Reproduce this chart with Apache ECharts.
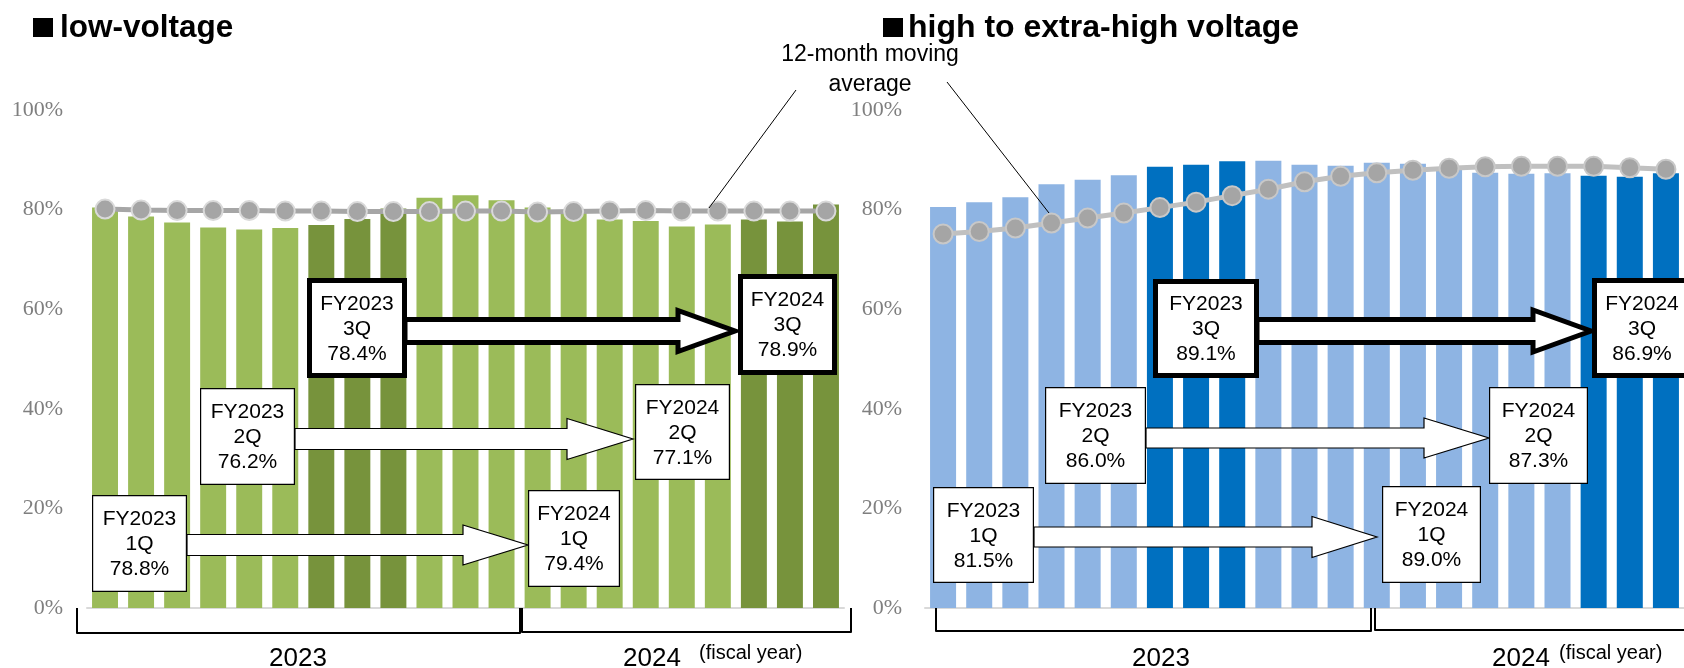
<!DOCTYPE html>
<html><head><meta charset="utf-8">
<script src="https://cdn.jsdelivr.net/npm/echarts@6/dist/echarts.min.js"></script>
<style>html,body{margin:0;padding:0;background:#fff;}#c{width:1684px;height:668px;}</style>
</head><body><div id="c"></div>
<script>
// ---- data ----
const months = ['2023-04','2023-05','2023-06','2023-07','2023-08','2023-09','2023-10','2023-11','2023-12','2024-01','2024-02','2024-03',
                '2024-04','2024-05','2024-06','2024-07','2024-08','2024-09','2024-10','2024-11','2024-12'];
const highlightMonths = ['2023-10','2023-11','2023-12','2024-10','2024-11','2024-12']; // 3Q months
const yTicks = [0, 20, 40, 60, 80, 100];
const lowBars  = [80.4, 78.6, 77.4, 76.4, 76.0, 76.3, 76.9, 78.1, 80.2, 82.4, 82.9, 81.9, 80.4, 79.9, 78.0, 77.7, 76.6, 77.0, 78.0, 77.6, 81.0];
const lowAvg   = [80.1, 79.9, 79.8, 79.8, 79.8, 79.7, 79.7, 79.6, 79.6, 79.6, 79.7, 79.7, 79.5, 79.6, 79.7, 79.8, 79.7, 79.7, 79.7, 79.7, 79.7];
const highBars = [80.5, 81.5, 82.5, 85.1, 86.0, 86.9, 88.6, 89.0, 89.7, 89.8, 89.0, 88.8, 89.4, 89.2, 88.4, 87.4, 87.2, 87.3, 86.8, 86.6, 87.3];
const highAvg  = [75.1, 75.6, 76.3, 77.3, 78.3, 79.3, 80.4, 81.5, 82.8, 84.1, 85.6, 86.7, 87.4, 87.9, 88.3, 88.6, 88.7, 88.7, 88.7, 88.4, 88.1];
const quarterNames = ['1Q', '2Q', '3Q'];
const lowQ2023  = [78.8, 76.2, 78.4];
const lowQ2024  = [79.4, 77.1, 78.9];
const highQ2023 = [81.5, 86.0, 89.1];
const highQ2024 = [89.0, 87.3, 86.9];
const fiscalYears = ['2023', '2024'];
const titles = ['low-voltage', 'high to extra-high voltage'];
const avgLabel = '12-month moving\naverage';
const fyNote = '(fiscal year)';

// ---- chart ----
const chart = echarts.init(document.getElementById('c'), null, {renderer: 'canvas'});
const SANS = '"Liberation Sans", Arial, sans-serif';
const SERIF = '"Liberation Serif", "Times New Roman", serif';

function yAxis(idx, margin) {
  return {
    type: 'value', gridIndex: idx, min: yTicks[0], max: yTicks[yTicks.length - 1], interval: yTicks[1] - yTicks[0],
    axisLine: {show: false}, axisTick: {show: false}, splitLine: {show: false},
    axisLabel: {formatter: '{value}%', color: '#7f7f7f', fontFamily: SERIF, fontSize: 22, margin: margin}
  };
}
function xAxis(idx) {
  return {
    type: 'category', gridIndex: idx, data: months,
    axisLabel: {show: false}, axisTick: {show: false},
    axisLine: {lineStyle: {color: '#d9d9d9', width: 2}}
  };
}
function barSeries(idx, data, light, dark) {
  return {
    type: 'bar', xAxisIndex: idx, yAxisIndex: idx, data: data, barCategoryGap: '28%', z: 2,
    itemStyle: {color: p => highlightMonths.includes(months[p.dataIndex]) ? dark : light},
    animation: false
  };
}
function lineSeries(idx, data, lineColor, borderColor) {
  return {
    type: 'line', xAxisIndex: idx, yAxisIndex: idx, data: data, z: 3,
    symbol: 'circle', symbolSize: 19, showSymbol: true,
    lineStyle: {color: lineColor, width: 5},
    itemStyle: {color: '#a5a5a5', borderColor: borderColor, borderWidth: 2},
    animation: false
  };
}

// ---- annotation helpers ----
function box(x, y, w, h, lines, thick) {
  const lw = thick ? 5 : 1.2;
  return [
    {type: 'rect', z: 101, shape: {x: x + lw / 2, y: y + lw / 2, width: w - lw, height: h - lw},
     style: {fill: '#fff', stroke: '#000', lineWidth: lw}},
    {type: 'text', z: 102, style: {text: lines, x: x + w / 2, y: y + h / 2 + 1, align: 'center', verticalAlign: 'middle',
      font: '21px ' + SANS, lineHeight: 24.8, fill: '#000'}}
  ];
}
function arrow(x0, xb, xt, cy, h1, h2, thick) {
  return {
    type: 'polygon', z: 100,
    shape: {points: [[x0, cy - h1], [xb, cy - h1], [xb, cy - h2], [xt, cy], [xb, cy + h2], [xb, cy + h1], [x0, cy + h1]]},
    style: {fill: '#fff', stroke: '#000', lineWidth: thick ? 5 : 1.2, lineJoin: 'miter'}
  };
}
function txt(text, x, y, font, align) {
  return {type: 'text', z: 100, style: {text: text, x: x, y: y, align: align || 'center', verticalAlign: 'middle', font: font, fill: '#000', lineHeight: 30}};
}
function bracket(pts) {
  return {type: 'polyline', z: 50, shape: {points: pts}, style: {stroke: '#000', lineWidth: 2, fill: null, lineJoin: 'round'}};
}
const qLabel = (fy, i, v) => 'FY' + fy + '\n' + quarterNames[i] + '\n' + v.toFixed(1) + '%';

const graphics = [
  // titles
  {type: 'rect', z: 100, shape: {x: 33, y: 18, width: 20, height: 19}, style: {fill: '#000'}},
  txt(titles[0], 60, 28, 'bold 31.5px ' + SANS, 'left'),
  {type: 'rect', z: 100, shape: {x: 883, y: 18, width: 20, height: 19}, style: {fill: '#000'}},
  txt(titles[1], 908, 28, 'bold 32px ' + SANS, 'left'),
  // moving average annotation
  txt(avgLabel, 870, 70, '23px ' + SANS, 'center'),
  {type: 'line', z: 100, shape: {x1: 796, y1: 90, x2: 709, y2: 208}, style: {stroke: '#000', lineWidth: 1}},
  {type: 'line', z: 100, shape: {x1: 947, y1: 82, x2: 1049, y2: 213}, style: {stroke: '#000', lineWidth: 1}},
  // left brackets & year labels
  bracket([[77, 608], [77, 633], [520, 633], [520, 608]]),
  bracket([[522, 608], [522, 632], [851, 632], [851, 608]]),
  txt(fiscalYears[0], 298, 659, '26px ' + SANS),
  txt(fiscalYears[1], 652, 659, '26px ' + SANS),
  txt(fyNote, 699, 653, '20px ' + SANS, 'left'),
  // right brackets & year labels
  bracket([[936, 608], [936, 631], [1371, 631], [1371, 608]]),
  bracket([[1375, 608], [1375, 630], [1720, 630]]),
  txt(fiscalYears[0], 1161, 659, '26px ' + SANS),
  txt(fiscalYears[1], 1521, 659, '26px ' + SANS),
  txt(fyNote, 1559, 653, '20px ' + SANS, 'left'),
  // left annotations
  arrow(187, 463, 528, 545, 10.5, 20, false),
  ...box(92, 495, 95, 97, qLabel(2023, 0, lowQ2023[0]), false),
  ...box(528, 490, 92, 97, qLabel(2024, 0, lowQ2024[0]), false),
  arrow(295, 567, 633, 439, 10.5, 20.5, false),
  ...box(200, 388, 95, 97, qLabel(2023, 1, lowQ2023[1]), false),
  ...box(635, 384, 95, 96, qLabel(2024, 1, lowQ2024[1]), false),
  arrow(405, 678, 735, 331, 11.5, 20.5, true),
  ...box(307, 278, 100, 100, qLabel(2023, 2, lowQ2023[2]), true),
  ...box(738, 274, 99, 101, qLabel(2024, 2, lowQ2024[2]), true),
  // right annotations
  arrow(1034, 1312, 1377, 537, 10, 20.5, false),
  ...box(933, 487, 101, 96, qLabel(2023, 0, highQ2023[0]), false),
  ...box(1382, 486, 99, 97, qLabel(2024, 0, highQ2024[0]), false),
  arrow(1146, 1424, 1489, 438, 10, 20, false),
  ...box(1045, 387, 101, 97, qLabel(2023, 1, highQ2023[1]), false),
  ...box(1489, 387, 99, 97, qLabel(2024, 1, highQ2024[1]), false),
  arrow(1257, 1533, 1591, 331, 11.5, 21, true),
  ...box(1153, 279, 106, 99, qLabel(2023, 2, highQ2023[2]), true),
  ...box(1592, 278, 100, 100, qLabel(2024, 2, highQ2024[2]), true)
];

chart.setOption({
  backgroundColor: '#fff',
  animation: false,
  grid: [
    {left: 87, width: 757, top: 110, height: 498},
    {left: 925, width: 781, top: 110, height: 498}
  ],
  xAxis: [xAxis(0), xAxis(1)],
  yAxis: [yAxis(0, 24), yAxis(1, 23)],
  series: [
    barSeries(0, lowBars, '#9bbb59', '#77933c'),
    lineSeries(0, lowAvg, '#a6a6a6', '#d9d9d9'),
    barSeries(1, highBars, '#8eb4e3', '#0070c0'),
    lineSeries(1, highAvg, '#c0c0c0', '#c8c8c8')
  ],
  graphic: graphics
});
</script>
</body></html>
